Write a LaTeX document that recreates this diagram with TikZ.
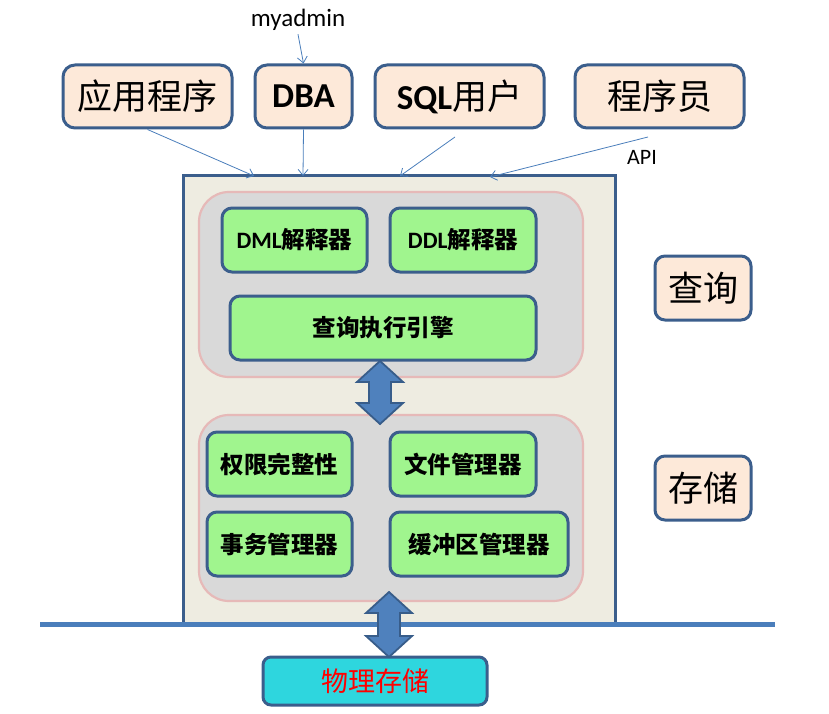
\documentclass[tikz,border=0pt]{standalone}
\usepackage{fontspec}
\setmainfont{Carlito}
\newfontfamily\cjk{Noto Sans CJK SC}
\usetikzlibrary{positioning,calc,arrows.meta}
\definecolor{boxblue}{RGB}{59,94,140}
\definecolor{peach}{RGB}{253,233,217}
\definecolor{paper}{RGB}{238,236,225}
\definecolor{groupgrey}{RGB}{217,217,217}
\definecolor{grouppink}{RGB}{230,185,184}
\definecolor{modgreen}{RGB}{160,245,142}
\definecolor{diskcyan}{RGB}{46,214,222}
\definecolor{linkblue}{RGB}{74,126,187}
\definecolor{fatblue}{RGB}{79,129,189}
\definecolor{fatedge}{RGB}{56,93,138}

% fat double arrow: x, top tip, bottom tip
\newcommand{\fatarrow}[3]{%
  \filldraw[fill=fatblue, draw=fatedge, line width=1.8pt, line join=miter]
    (#1,#2) -- ++(23,21) -- ++(-12,0) -- (#1+11,#3-21) -- ++(12,0) -- (#1,#3)
    -- ++(-23,-21) -- ++(12,0) -- (#1-11,#2+21) -- ++(-12,0) -- cycle;}

\begin{document}
\begin{tikzpicture}[x=1pt,y=-1pt,
    actor/.style={draw=boxblue, line width=3pt, fill=peach, rounded corners=12pt,
      minimum height=63pt, inner sep=0pt, font=\fontsize{35}{38}\selectfont},
    group/.style={draw=grouppink, line width=2.2pt, fill=groupgrey, rounded corners=30pt, inner sep=0pt},
    module/.style={draw=boxblue, line width=3pt, fill=modgreen, rounded corners=10pt,
      minimum height=64pt, inner sep=0pt, font=\fontsize{23.5}{25}\selectfont\bfseries},
    link/.style={-{Straight Barb[length=6pt,width=10pt]}, linkblue, line width=0.8pt}]
  \useasboundingbox (0,0) rectangle (829,714);

  % users
  \node[actor, minimum width=169pt] (app) at (147.5,96.5) {\cjk 应用程序};
  \node[actor, minimum width=97pt] (dba) at (303.5,96.5) {\bfseries DBA};
  \node[actor, minimum width=169pt] (sql) at (459.5,96.5) {\bfseries SQL{\cjk\mdseries 用户}};
  \node[actor, minimum width=169pt] (prog) at (659.5,96.5) {\cjk 程序员};
  \node[font=\fontsize{25}{26}\selectfont] (myadmin) at (298,20) {myadmin};
  \node[font=\fontsize{22}{24}\selectfont] (api) at (642,157) {API};

  % DBMS
  \node[draw=boxblue, line width=3pt, fill=paper, minimum width=432pt, minimum height=448pt,
    inner sep=0pt] (dbms) at (399,400) {};
  \node[group, minimum width=384pt, minimum height=185pt] (query) at (391,284.5) {};
  \node[group, minimum width=384pt, minimum height=186pt] (store) at (391,508) {};

  \node[module, minimum width=145pt] (dml) at (294.5,240) {DML{\cjk 解释器}};
  \node[module, minimum width=146pt] (ddl) at (463,240) {DDL{\cjk 解释器}};
  \node[module, minimum width=306pt] (engine) at (383,328) {\cjk 查询执行引擎};

  \node[module, minimum width=145pt] (auth) at (279.5,464) {\cjk 权限完整性};
  \node[module, minimum width=146pt] (file) at (463,464) {\cjk 文件管理器};
  \node[module, minimum width=145pt] (txn) at (279.5,544) {\cjk 事务管理器};
  \node[module, minimum width=178pt] (buffer) at (479,544) {\cjk 缓冲区管理器};

  \node[actor, minimum width=96pt, minimum height=64pt, rounded corners=10pt] (qlabel) at (703,288) {\cjk 查询};
  \node[actor, minimum width=96pt, minimum height=64pt, rounded corners=10pt] (slabel) at (703,488) {\cjk 存储};

  % bus line and disk
  \draw[linkblue, line width=5pt] (40,624) -- (775,624);
  \node[draw=boxblue, line width=3pt, fill=diskcyan, rounded corners=8pt, minimum width=224pt,
    minimum height=48pt, inner sep=0pt, text=red, font=\fontsize{27}{29}\selectfont\cjk] (disk) at (375,681) {物理存储};

  \fatarrow{380}{361}{424}
  \fatarrow{389}{592}{657}

  % thin arrows
  \coordinate (appin) at (254,176);
  \coordinate (dbain) at (303,176);
  \coordinate (sqlout) at (455,137);
  \coordinate (sqlin) at (400,176);
  \coordinate (progout) at (648,137);
  \coordinate (progin) at (490,177);
  \draw[link] (myadmin.south) -- (dba.north);
  \draw[link] (app.south) -- (appin);
  \draw[link] (dba.south) -- (dbain);
  \draw[link] (sqlout) -- (sqlin);
  \draw[link] (progout) -- (progin);
\end{tikzpicture}
\end{document}
